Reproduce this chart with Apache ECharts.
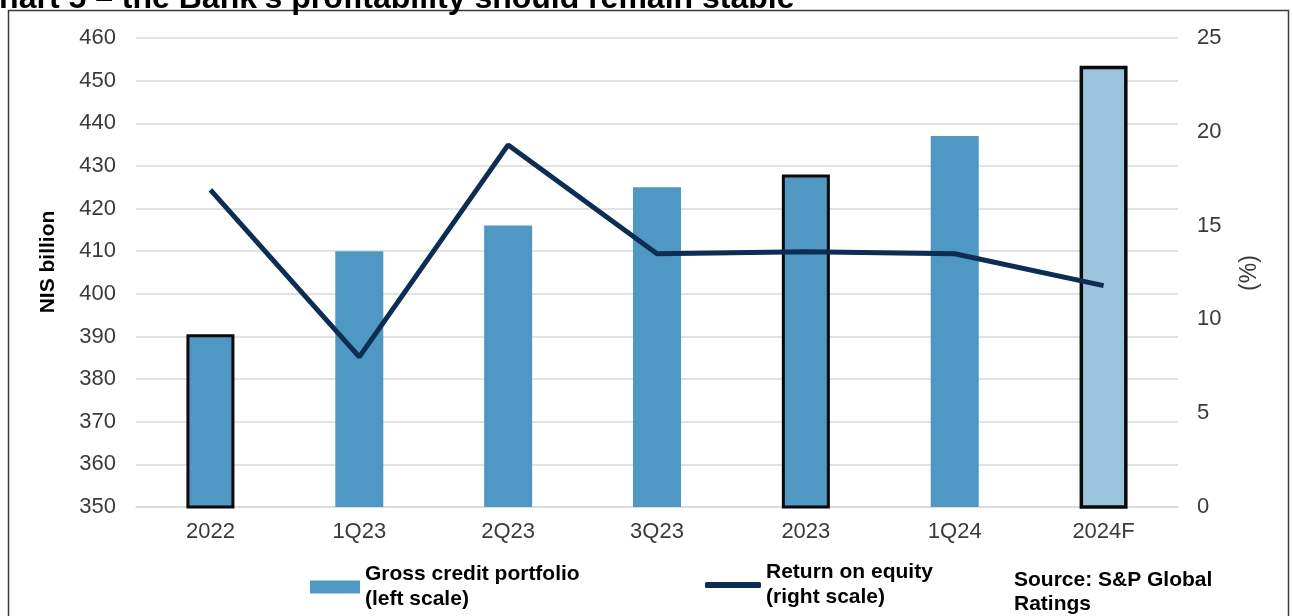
<!DOCTYPE html>
<html>
<head>
<meta charset="utf-8">
<title>Chart 5 - the Bank's profitability should remain stable</title>
<script src="https://cdn.jsdelivr.net/npm/echarts@6/dist/echarts.min.js"></script>
<style>
  html, body { margin: 0; padding: 0; background: #ffffff; }
  #chart { width: 1293px; height: 616px; }
</style>
</head>
<body>
<div id="chart"></div>
<script>
// Periods on the category axis
var categories = ['2022', '1Q23', '2Q23', '3Q23', '2023', '1Q24', '2024F'];
// Gross credit portfolio, NIS billion (left scale)
var creditPortfolio = [390.5, 410, 416, 425, 428, 437, 453.5];
// Return on equity, % (right scale)
var returnOnEquity = [16.9, 8.0, 19.3, 13.5, 13.6, 13.5, 11.8];
// Left and right tick ranges
var leftScale = { min: 350, max: 460, step: 10 };
var rightScale = { min: 0, max: 25, step: 5 };

var FONT = 'Liberation Sans, Arial, sans-serif';
var BAR_BLUE = '#4f98c4';
var BAR_FORECAST = '#9bc3dc';
var LINE_NAVY = '#0d2d55';

// Annual periods are outlined; the forecast is lighter
var barData = creditPortfolio.map(function (v, i) {
  var cat = categories[i];
  var item = { value: v };
  if (cat === '2022' || cat === '2023') {
    item.itemStyle = { color: BAR_BLUE, borderColor: '#0a0a0a', borderWidth: 3 };
  } else if (cat === '2024F') {
    item.itemStyle = { color: BAR_FORECAST, borderColor: '#0a0a0a', borderWidth: 3.5 };
  }
  return item;
});

var creditName = 'Gross credit portfolio\n(left scale)';
var roeName = 'Return on equity\n(right scale)';

var chart = echarts.init(document.getElementById('chart'), null, { renderer: 'canvas' });

chart.setOption({
  animation: false,
  backgroundColor: '#ffffff',
  textStyle: { fontFamily: FONT },
  grid: { left: 136, right: 115, top: 38, bottom: 109, containLabel: false },
  legend: [
    {
      data: [creditName],
      left: 310, top: 562, padding: 0,
      icon: 'rect', itemWidth: 50, itemHeight: 13,
      itemStyle: { borderWidth: 0, color: BAR_BLUE },
      textStyle: { fontFamily: FONT, fontSize: 21, fontWeight: 'bold', color: '#000', lineHeight: 25 }
    },
    {
      data: [roeName],
      left: 705, top: 560, padding: 0,
      icon: 'roundRect', itemWidth: 56, itemHeight: 6,
      itemStyle: { color: LINE_NAVY },
      textStyle: { fontFamily: FONT, fontSize: 21, fontWeight: 'bold', color: '#000', lineHeight: 25 }
    }
  ],
  xAxis: {
    type: 'category',
    data: categories,
    axisLine: { show: true, lineStyle: { color: '#d9d9d9', width: 1.5 } },
    axisTick: { show: false },
    axisLabel: { fontFamily: FONT, fontSize: 22, color: '#3a3a3a', margin: 14 }
  },
  yAxis: [
    {
      type: 'value',
      min: leftScale.min, max: leftScale.max, interval: leftScale.step,
      axisLine: { show: false }, axisTick: { show: false },
      axisLabel: { fontFamily: FONT, fontSize: 22, color: '#3a3a3a', margin: 20 },
      splitLine: { show: true, lineStyle: { color: '#d9d9d9', width: 1.5 } }
    },
    {
      type: 'value',
      min: rightScale.min, max: rightScale.max, interval: rightScale.step,
      position: 'right',
      axisLine: { show: false }, axisTick: { show: false },
      axisLabel: { fontFamily: FONT, fontSize: 22, color: '#3a3a3a', margin: 19 },
      splitLine: { show: false }
    }
  ],
  series: [
    {
      name: creditName,
      type: 'bar',
      yAxisIndex: 0,
      barWidth: 48,
      itemStyle: { color: BAR_BLUE },
      data: barData,
      z: 2
    },
    {
      name: roeName,
      type: 'line',
      yAxisIndex: 1,
      data: returnOnEquity,
      symbol: 'none',
      lineStyle: { color: LINE_NAVY, width: 5 },
      itemStyle: { color: LINE_NAVY },
      z: 3
    }
  ],
  graphic: [
    {
      type: 'rect',
      shape: { x: 8.5, y: 10.5, width: 1280, height: 700 },
      style: { fill: 'none', stroke: '#3a3a3a', lineWidth: 1.5 },
      silent: true, z: 0
    },
    {
      type: 'text',
      x: -24, y: -1,
      style: {
        text: "Chart 5 \u2013 the Bank's profitability should remain stable",
        font: 'bold 32px ' + FONT, fill: '#000',
        align: 'left', verticalAlign: 'middle'
      },
      silent: true, z: 5
    },
    {
      type: 'text',
      x: 48.5, y: 262, rotation: Math.PI / 2,
      style: {
        text: 'NIS billion',
        font: 'bold 21px ' + FONT, fill: '#000',
        align: 'center', verticalAlign: 'middle'
      },
      silent: true
    },
    {
      type: 'text',
      x: 1250, y: 273, rotation: Math.PI / 2,
      style: {
        text: '(%)',
        font: '23px ' + FONT, fill: '#3a3a3a',
        align: 'center', verticalAlign: 'middle'
      },
      silent: true
    },
    {
      type: 'text',
      x: 1014, y: 568,
      style: {
        text: 'Source: S&P Global\nRatings',
        font: 'bold 21px ' + FONT, fill: '#000',
        lineHeight: 24,
        align: 'left', verticalAlign: 'top'
      },
      silent: true
    }
  ]
});
</script>
</body>
</html>
